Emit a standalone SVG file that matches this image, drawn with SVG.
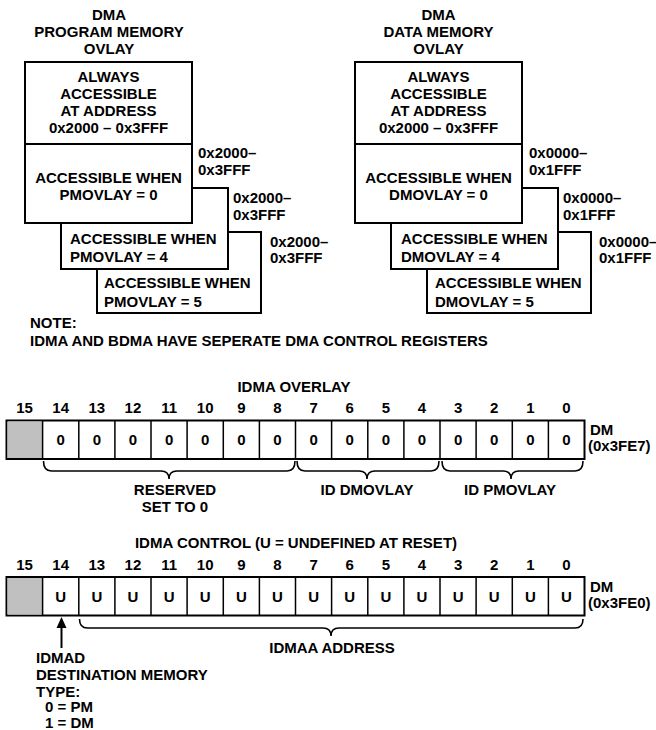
<svg xmlns="http://www.w3.org/2000/svg" width="656" height="730" viewBox="0 0 656 730">
<style>
text{font-family:"Liberation Sans",Arial,sans-serif;font-weight:bold;font-size:15px;fill:#000}
.c{text-anchor:middle}
.box{fill:#fff;stroke:#000;stroke-width:2}
.reg{fill:#fff;stroke:#000;stroke-width:2}
.div{stroke:#000;stroke-width:1.5}
.gray{fill:#c0c0c0}
.brace{fill:none;stroke:#000;stroke-width:1.6}
</style>
<rect width="656" height="730" fill="#fff"/>

<!-- PROGRAM MEMORY OVERLAY -->
<g id="pm_title">
<text class="c" x="109" y="20">DMA</text>
<text class="c" x="109" y="37">PROGRAM MEMORY</text>
<text class="c" x="109" y="54">OVLAY</text>
</g>
<g id="pm_box5">
<rect class="box" x="97" y="232" width="164" height="81"/>
<text x="104" y="288">ACCESSIBLE WHEN</text>
<text x="104" y="307">PMOVLAY = 5</text>
</g>
<g id="pm_box4">
<rect class="box" x="61" y="188" width="167" height="81"/>
<text x="70" y="244">ACCESSIBLE WHEN</text>
<text x="70" y="262">PMOVLAY = 4</text>
</g>
<g id="pm_box0">
<rect class="box" x="25" y="62" width="167" height="161"/>
<line class="div" x1="25" y1="144" x2="192" y2="144" style="stroke-width:2"/>
<text class="c" x="108.5" y="82">ALWAYS</text>
<text class="c" x="108.5" y="99">ACCESSIBLE</text>
<text class="c" x="108.5" y="116">AT ADDRESS</text>
<text class="c" x="108.5" y="133">0x2000 – 0x3FFF</text>
<text class="c" x="108.5" y="183">ACCESSIBLE WHEN</text>
<text class="c" x="108.5" y="200">PMOVLAY = 0</text>
</g>
<g id="pm_addr">
<text x="198" y="158">0x2000–</text>
<text x="198" y="175">0x3FFF</text>
<text x="233" y="203">0x2000–</text>
<text x="233" y="220">0x3FFF</text>
<text x="270" y="247">0x2000–</text>
<text x="270" y="263">0x3FFF</text>
</g>

<!-- DATA MEMORY OVERLAY -->
<g id="dm_title">
<text class="c" x="438.5" y="20">DMA</text>
<text class="c" x="438.5" y="37">DATA MEMORY</text>
<text class="c" x="438.5" y="54">OVLAY</text>
</g>
<g id="dm_box5">
<rect class="box" x="427" y="232" width="164" height="81"/>
<text x="435" y="288">ACCESSIBLE WHEN</text>
<text x="435" y="307">DMOVLAY = 5</text>
</g>
<g id="dm_box4">
<rect class="box" x="391" y="188" width="167" height="81"/>
<text x="401" y="244">ACCESSIBLE WHEN</text>
<text x="401" y="262">DMOVLAY = 4</text>
</g>
<g id="dm_box0">
<rect class="box" x="355" y="62" width="167" height="161"/>
<line class="div" x1="355" y1="144" x2="522" y2="144" style="stroke-width:2"/>
<text class="c" x="438.5" y="82">ALWAYS</text>
<text class="c" x="438.5" y="99">ACCESSIBLE</text>
<text class="c" x="438.5" y="116">AT ADDRESS</text>
<text class="c" x="438.5" y="133">0x2000 – 0x3FFF</text>
<text class="c" x="438.5" y="183">ACCESSIBLE WHEN</text>
<text class="c" x="438.5" y="200">DMOVLAY = 0</text>
</g>
<g id="dm_addr">
<text x="529" y="158">0x0000–</text>
<text x="529" y="175">0x1FFF</text>
<text x="563" y="203">0x0000–</text>
<text x="563" y="220">0x1FFF</text>
<text x="599" y="247">0x0000–</text>
<text x="599" y="263">0x1FFF</text>
</g>

<g id="note">
<text x="30" y="328">NOTE:</text>
<text x="30" y="346">IDMA AND BDMA HAVE SEPERATE DMA CONTROL REGISTERS</text>
</g>

<!-- IDMA OVERLAY register -->
<g id="idma_overlay">
<text class="c" x="294" y="392">IDMA OVERLAY</text>
<text class="c" x="24.6" y="413">15</text>
<text class="c" x="60.7" y="413">14</text>
<text class="c" x="96.8" y="413">13</text>
<text class="c" x="132.9" y="413">12</text>
<text class="c" x="169.1" y="413">11</text>
<text class="c" x="205.2" y="413">10</text>
<text class="c" x="241.3" y="413">9</text>
<text class="c" x="277.4" y="413">8</text>
<text class="c" x="313.6" y="413">7</text>
<text class="c" x="349.7" y="413">6</text>
<text class="c" x="385.8" y="413">5</text>
<text class="c" x="421.9" y="413">4</text>
<text class="c" x="458.1" y="413">3</text>
<text class="c" x="494.2" y="413">2</text>
<text class="c" x="530.3" y="413">1</text>
<text class="c" x="566.4" y="413">0</text>
<rect class="reg" x="6.5" y="420.5" width="578" height="38.5"/>
<rect class="gray" x="7.5" y="421.5" width="35.1" height="36.5"/>
<path class="div" d="M42.6 420.5V459M78.8 420.5V459M114.9 420.5V459M151 420.5V459M187.1 420.5V459M223.3 420.5V459M259.4 420.5V459M295.5 420.5V459M331.6 420.5V459M367.8 420.5V459M403.9 420.5V459M440 420.5V459M476.1 420.5V459M512.3 420.5V459M548.4 420.5V459"/>
<text class="c" x="60.7" y="445">0</text>
<text class="c" x="96.8" y="445">0</text>
<text class="c" x="132.9" y="445">0</text>
<text class="c" x="169.1" y="445">0</text>
<text class="c" x="205.2" y="445">0</text>
<text class="c" x="241.3" y="445">0</text>
<text class="c" x="277.4" y="445">0</text>
<text class="c" x="313.6" y="445">0</text>
<text class="c" x="349.7" y="445">0</text>
<text class="c" x="385.8" y="445">0</text>
<text class="c" x="421.9" y="445">0</text>
<text class="c" x="458.1" y="445">0</text>
<text class="c" x="494.2" y="445">0</text>
<text class="c" x="530.3" y="445">0</text>
<text class="c" x="566.4" y="445">0</text>
<text x="590" y="435">DM</text>
<text x="588" y="451">(0x3FE7)</text>
</g>
<g id="reserved_label">
<text class="c" x="175" y="495">RESERVED</text>
<text class="c" x="175" y="512">SET TO 0</text>
</g>
<g id="iddmovlay_label"><text class="c" x="367" y="495">ID DMOVLAY</text></g>
<g id="idpmovlay_label"><text class="c" x="510" y="495">ID PMOVLAY</text></g>

<!-- IDMA CONTROL register -->
<g id="idma_control">
<text class="c" x="296" y="548">IDMA CONTROL (U = UNDEFINED AT RESET)</text>
<text class="c" x="24.6" y="570">15</text>
<text class="c" x="60.7" y="570">14</text>
<text class="c" x="96.8" y="570">13</text>
<text class="c" x="132.9" y="570">12</text>
<text class="c" x="169.1" y="570">11</text>
<text class="c" x="205.2" y="570">10</text>
<text class="c" x="241.3" y="570">9</text>
<text class="c" x="277.4" y="570">8</text>
<text class="c" x="313.6" y="570">7</text>
<text class="c" x="349.7" y="570">6</text>
<text class="c" x="385.8" y="570">5</text>
<text class="c" x="421.9" y="570">4</text>
<text class="c" x="458.1" y="570">3</text>
<text class="c" x="494.2" y="570">2</text>
<text class="c" x="530.3" y="570">1</text>
<text class="c" x="566.4" y="570">0</text>
<rect class="reg" x="6.5" y="577" width="578" height="38.5"/>
<rect class="gray" x="7.5" y="578" width="35.1" height="36.5"/>
<path class="div" d="M42.6 577V615.5M78.8 577V615.5M114.9 577V615.5M151 577V615.5M187.1 577V615.5M223.3 577V615.5M259.4 577V615.5M295.5 577V615.5M331.6 577V615.5M367.8 577V615.5M403.9 577V615.5M440 577V615.5M476.1 577V615.5M512.3 577V615.5M548.4 577V615.5"/>
<text class="c" x="60.7" y="602">U</text>
<text class="c" x="96.8" y="602">U</text>
<text class="c" x="132.9" y="602">U</text>
<text class="c" x="169.1" y="602">U</text>
<text class="c" x="205.2" y="602">U</text>
<text class="c" x="241.3" y="602">U</text>
<text class="c" x="277.4" y="602">U</text>
<text class="c" x="313.6" y="602">U</text>
<text class="c" x="349.7" y="602">U</text>
<text class="c" x="385.8" y="602">U</text>
<text class="c" x="421.9" y="602">U</text>
<text class="c" x="458.1" y="602">U</text>
<text class="c" x="494.2" y="602">U</text>
<text class="c" x="530.3" y="602">U</text>
<text class="c" x="566.4" y="602">U</text>
<text x="590" y="592">DM</text>
<text x="588" y="608">(0x3FE0)</text>
</g>
<g id="idmaa_label"><text class="c" x="332" y="653">IDMAA ADDRESS</text></g>
<g id="idmad_label">
<text x="36" y="663">IDMAD</text>
<text x="36" y="680">DESTINATION MEMORY</text>
<text x="36" y="697">TYPE:</text>
<text x="45" y="712">0 = PM</text>
<text x="45" y="728">1 = DM</text>
</g>

<g id="connectors">
<path class="brace" d="M43.5 461Q43.5 471 51.5 471H161Q169 471 169 479Q169 471 177 471H287Q295 471 295 461"/>
<path class="brace" d="M297 461Q297 471 305 471H359Q367 471 367 479Q367 471 375 471H431Q439 471 439 461"/>
<path class="brace" d="M442 461Q442 471 450 471H503Q511 471 511 479Q511 471 519 471H575Q583 471 583 461"/>
<path class="brace" d="M79.5 619Q79.5 628 87.5 628H323Q331 628 331 636Q331 628 339 628H575Q583 628 583 619"/>
<line x1="61.5" y1="626" x2="61.5" y2="648" stroke="#000" stroke-width="2"/>
<polygon points="61.5,617 56.5,628 66.5,628" fill="#000"/>
</g>
</svg>
